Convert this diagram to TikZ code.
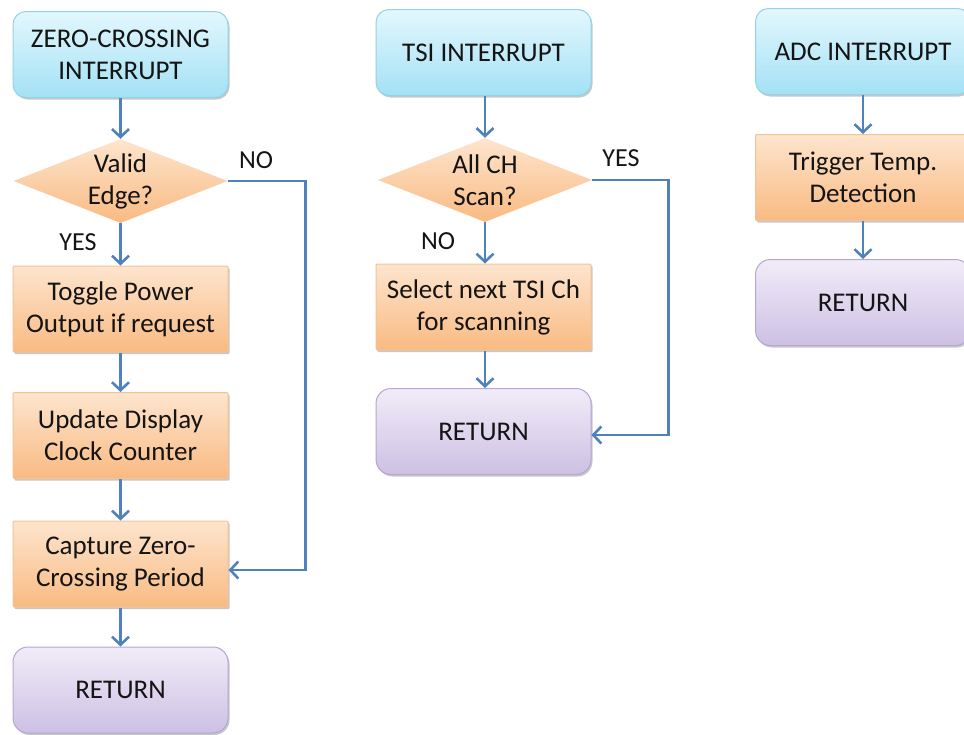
\documentclass[tikz,border=0pt]{standalone}
\usepackage{fontspec}
\setmainfont{Carlito}
\usetikzlibrary{arrows.meta,shapes.geometric,shadows}

\definecolor{startA}{HTML}{E3F7FD}
\definecolor{startB}{HTML}{A3E1F5}
\definecolor{startLine}{HTML}{93D3E8}
\definecolor{procA}{HTML}{FDE5CE}
\definecolor{procB}{HTML}{F9BA82}
\definecolor{procLine}{HTML}{F3C394}
\definecolor{retA}{HTML}{F1ECF8}
\definecolor{retB}{HTML}{CDC0E4}
\definecolor{retLine}{HTML}{B5A6D2}
\definecolor{flowBlue}{HTML}{4F81BD}
\definecolor{ink}{HTML}{141414}

\tikzset{
  boxbase/.style={minimum width=215pt, minimum height=86pt, align=center,
    inner sep=0pt, line width=1pt, text=ink,
    font=\fontsize{27}{32}\selectfont,
    drop shadow={shadow xshift=1.5pt, shadow yshift=-2pt, opacity=0.22, fill=black}},
  startbox/.style={boxbase, draw=startLine, rounded corners=13pt,
    top color=startA, bottom color=startB},
  procbox/.style={boxbase, draw=procLine, rounded corners=1pt,
    top color=procA, bottom color=procB},
  retbox/.style={boxbase, draw=retLine, rounded corners=15pt,
    top color=retA, bottom color=retB},
  decbox/.style={diamond, inner sep=0pt, minimum width=214pt, minimum height=84pt,
    top color=procA, bottom color=procB, draw=none},
  dectext/.style={align=center, text=ink, font=\fontsize{27}{32}\selectfont},
  lbl/.style={text=ink, font=\fontsize{26}{31}\selectfont},
  flow/.style={draw=flowBlue, line width=2.6pt,
    -{Straight Barb[length=8pt,width=17pt]}}
}

\begin{document}
\begin{tikzpicture}[x=1pt,y=-1pt]
  \useasboundingbox (0,0) rectangle (964,734);
  \clip (0,0) rectangle (964,734);

  % zero-crossing interrupt routine
  \node[startbox] (zc) at (120.5,54.5) {ZERO-CROSSING\\INTERRUPT};
  \node[decbox] (d1) at (120.5,181) {};
  \node[dectext] (d1t) at (d1) {Valid\\Edge?};
  \node[procbox] (tog) at (120.5,309) {Toggle Power\\Output if request};
  \node[procbox] (upd) at (120.5,435.5) {Update Display\\Clock Counter};
  \node[procbox] (cap) at (120.5,564) {Capture Zero-\\Crossing Period};
  \node[retbox] (r1) at (120.5,690) {RETURN};
  \node[lbl] (no1) at (256,160) {NO};
  \node[lbl] (yes1) at (78,242) {YES};

  \draw[flow] (zc.south) -- (d1.north);
  \draw[flow] (d1.south) -- (tog.north);
  \draw[flow] (tog.south) -- (upd.north);
  \draw[flow] (upd.south) -- (cap.north);
  \draw[flow] (cap.south) -- (r1.north);
  \draw[flow] (d1.east) -- ++(78,0) |- ([yshift=-6pt]cap.east);

  % TSI interrupt routine
  \node[startbox] (tsi) at (483.5,52.5) {TSI INTERRUPT};
  \node[decbox] (d2) at (485,180) {};
  \node[dectext] (d2t) at (d2) {All CH\\Scan?};
  \node[procbox] (sel) at (483.5,307) {Select next TSI Ch\\for scanning};
  \node[retbox] (r2) at (483.5,431.5) {RETURN};
  \node[lbl] (yes2) at (621,158) {YES};
  \node[lbl] (no2) at (438,241) {NO};

  \draw[flow] (tsi.south -| d2.north) -- (d2.north);
  \draw[flow] (d2.south) -- (d2.south |- sel.north);
  \draw[flow] (sel.south -| d2.south) -- (d2.south |- r2.north);
  \draw[flow] (d2.east) -- ++(76,0) |- ([yshift=-3.5pt]r2.east);

  % ADC interrupt routine
  \node[startbox] (adc) at (863,51.5) {ADC INTERRUPT};
  \node[procbox] (trg) at (863,177.5) {Trigger Temp.\\Detection};
  \node[retbox] (r3) at (863,302.5) {RETURN};

  \draw[flow] (adc.south) -- (trg.north);
  \draw[flow] (trg.south) -- (r3.north);
\end{tikzpicture}
\end{document}
